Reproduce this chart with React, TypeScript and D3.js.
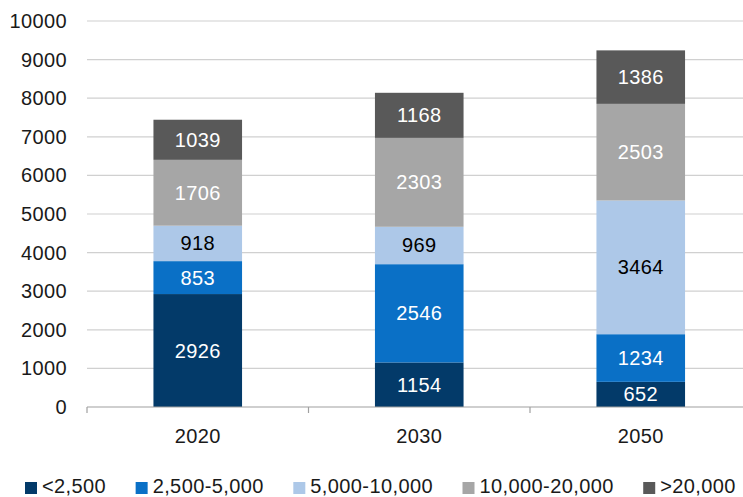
import React, { useEffect, useRef } from 'react';
import * as d3 from 'd3';

const years = ['2020', '2030', '2050'];
const seriesNames = ['<2,500', '2,500-5,000', '5,000-10,000', '10,000-20,000', '>20,000'];
const seriesColors = ['#033a69', '#0a70c6', '#adc8e8', '#a6a6a6', '#595959'];
const labelColors = ['#ffffff', '#ffffff', '#000000', '#ffffff', '#ffffff'];
// values per series, one per year
const under2500 = [2926, 1154, 652];
const from2500to5000 = [853, 2546, 1234];
const from5000to10000 = [918, 969, 3464];
const from10000to20000 = [1706, 2303, 2503];
const over20000 = [1039, 1168, 1386];
const yTicks = [0, 1000, 2000, 3000, 4000, 5000, 6000, 7000, 8000, 9000, 10000];

const W = 743;
const H = 497;
const FONT = "'Liberation Sans', Arial, Helvetica, sans-serif";

const txt = (sel: any) =>
  sel.style('font-family', FONT).style('font-size', '20px').style('letter-spacing', '0.4px');

const App: React.FC = () => {
  const svgRef = useRef<SVGSVGElement>(null);

  useEffect(() => {
    if (!svgRef.current) return;
    const svg = d3.select(svgRef.current);
    svg.selectAll('*').remove();

    const series = [under2500, from2500to5000, from5000to10000, from10000to20000, over20000];
    const rows = years.map((y, i) => {
      const r: any = { year: y };
      seriesNames.forEach((s, k) => { r[s] = series[k][i]; });
      return r;
    });
    const stacked = d3.stack<any>().keys(seriesNames)(rows);

    const x = d3.scaleBand().domain(years).range([87, 751.5]).paddingInner(0.6).paddingOuter(0.3);
    const y = d3.scaleLinear().domain([0, 10000]).range([407, 21]);

    // gridlines
    svg.append('g')
      .selectAll('line')
      .data(yTicks.filter(t => t > 0))
      .join('line')
      .attr('x1', 87).attr('x2', W)
      .attr('y1', d => y(d)).attr('y2', d => y(d))
      .attr('stroke', '#d0d0d0').attr('stroke-width', 1.2);

    // y labels
    svg.append('g')
      .selectAll('text')
      .data(yTicks)
      .join('text')
      .attr('x', 67).attr('y', d => y(d))
      .attr('dy', '0.35em')
      .attr('text-anchor', 'end')
      .call(txt)
      .style('fill', '#1a1a1a')
      .text(d => String(d));

    // bars
    const layer = svg.append('g')
      .selectAll('g')
      .data(stacked)
      .join('g')
      .attr('fill', (_d, i) => seriesColors[i]);

    layer.selectAll('rect')
      .data(d => d.map(p => ({ p, key: d.key })))
      .join('rect')
      .attr('x', d => x(d.p.data.year)!)
      .attr('width', x.bandwidth())
      .attr('y', d => y(d.p[1]))
      .attr('height', d => y(d.p[0]) - y(d.p[1]));

    // data labels
    stacked.forEach((s, i) => {
      svg.append('g')
        .selectAll('text')
        .data(s)
        .join('text')
        .attr('x', d => x(d.data.year)! + x.bandwidth() / 2)
        .attr('y', d => (y(d[0]) + y(d[1])) / 2)
        .attr('dy', '0.35em')
        .attr('text-anchor', 'middle')
        .call(txt)
        .style('fill', labelColors[i])
        .text(d => String(d[1] - d[0]));
    });

    // baseline with ticks
    const base = svg.append('g').attr('stroke', '#a0a0a0').attr('stroke-width', 1.2);
    base.append('line').attr('x1', 87).attr('x2', W).attr('y1', y(0)).attr('y2', y(0));
    const step = x.step();
    base.selectAll('line.tick')
      .data(d3.range(4))
      .join('line')
      .attr('class', 'tick')
      .attr('x1', i => 87 + i * step).attr('x2', i => 87 + i * step)
      .attr('y1', y(0)).attr('y2', y(0) + 6);

    // category labels
    svg.append('g')
      .selectAll('text')
      .data(years)
      .join('text')
      .attr('x', d => x(d)! + x.bandwidth() / 2)
      .attr('y', 443)
      .attr('text-anchor', 'middle')
      .call(txt)
      .style('fill', '#1a1a1a')
      .text(d => d);

    // legend
    const legend = svg.append('g');
    let lx = 25;
    seriesNames.forEach((name, i) => {
      legend.append('rect')
        .attr('x', lx).attr('y', 482).attr('width', 12).attr('height', 12)
        .attr('fill', seriesColors[i]);
      const t = legend.append('text')
        .attr('x', lx + 17).attr('y', 493)
        .call(txt)
        .style('fill', '#1a1a1a')
        .text(name);
      const w = (t.node() as SVGTextElement).getComputedTextLength();
      lx += 17 + w + 29.5;
    });
  }, []);

  return (
    <svg
      ref={svgRef}
      width={W}
      height={H}
      style={{ position: 'absolute', left: 0, top: 0, background: '#fff', display: 'block' }}
    />
  );
};

export default App;
